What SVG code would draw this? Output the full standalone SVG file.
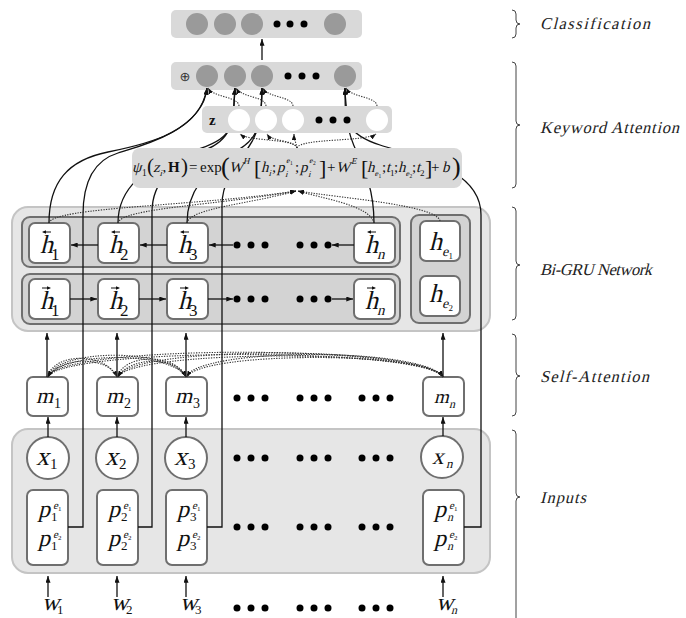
<svg xmlns="http://www.w3.org/2000/svg" xmlns:xlink="http://www.w3.org/1999/xlink" width="686" height="618" viewBox="0 0 686 618">
<style>
.outer{fill:#e6e6e6;stroke:#c4c4c4;stroke-width:2}
.row{fill:#d3d3d3;stroke:#6f6f6f;stroke-width:2}
.cell{fill:#fff;stroke:#6f6f6f;stroke-width:2}
.bar{fill:#d9d9d9}
.gc{fill:#9a9a9a}
.wc{fill:#fff}
.dot{fill:#000}
.v{font-family:'Liberation Serif','Times New Roman',serif;fill:#111}
.r{font-family:'Liberation Serif','Times New Roman',serif;fill:#111}
.lab{font-family:'Liberation Serif','Times New Roman',serif;font-size:16.5px;fill:#222}
.sl{fill:none;stroke:#111;stroke-width:1.3}
.dl{fill:none;stroke:#333;stroke-width:1.1;stroke-dasharray:1.3 1.3}
.br{fill:none;stroke:#444;stroke-width:1}
</style>
<defs>
<marker id="ah" viewBox="0 0 8 6" refX="8" refY="3" markerWidth="7" markerHeight="5" orient="auto" markerUnits="userSpaceOnUse"><path d="M0,0 L8,3 L0,6 z" fill="#111"/></marker>
<marker id="ad" viewBox="0 0 8 6" refX="8" refY="3" markerWidth="6" markerHeight="4.5" orient="auto" markerUnits="userSpaceOnUse"><path d="M0,0 L8,3 L0,6 z" fill="#111"/></marker>
<g id="al"><path d="M1.5,0 H9" stroke="#111" stroke-width="1"/><path d="M0,0 l4,-1.7 v3.4z" fill="#111"/></g>
<g id="ar"><path d="M0,0 H7.5" stroke="#111" stroke-width="1"/><path d="M9,0 l-4,-1.7 v3.4z" fill="#111"/></g>
</defs>

<!-- Bi-GRU containers -->
<g id="bigru">
<rect class="outer" x="12" y="207" width="478" height="124" rx="16"/>
<rect class="row" x="22" y="217" width="378" height="50" rx="8"/>
<rect class="row" x="22" y="274" width="378" height="50" rx="8"/>
<rect class="row" x="411" y="215" width="59" height="108" rx="8"/>
<g class="dot"><circle cx="237" cy="245" r="3.5"/><circle cx="251" cy="245" r="3.5"/><circle cx="265" cy="245" r="3.5"/><circle cx="300" cy="245" r="3.5"/><circle cx="314" cy="245" r="3.5"/><circle cx="328" cy="245" r="3.5"/>
<circle cx="237" cy="299" r="3.5"/><circle cx="251" cy="299" r="3.5"/><circle cx="265" cy="299" r="3.5"/><circle cx="300" cy="299" r="3.5"/><circle cx="314" cy="299" r="3.5"/><circle cx="328" cy="299" r="3.5"/></g>
</g>
<g id="hb1"><rect class="cell" x="29" y="223" width="41" height="40" rx="6"/><use xlink:href="#al" x="42" y="232"/><text class="v" transform="translate(40,253) skewX(-14)" font-size="26">h</text><text class="r" x="51" y="260" font-size="17">1</text></g>
<g id="hb2"><rect class="cell" x="98" y="223" width="41" height="40" rx="6"/><use xlink:href="#al" x="111" y="232"/><text class="v" transform="translate(109,253) skewX(-14)" font-size="26">h</text><text class="r" x="120" y="260" font-size="17">2</text></g>
<g id="hb3"><rect class="cell" x="167" y="223" width="41" height="40" rx="6"/><use xlink:href="#al" x="180" y="232"/><text class="v" transform="translate(178,253) skewX(-14)" font-size="26">h</text><text class="r" x="189" y="260" font-size="17">3</text></g>
<g id="hbn"><rect class="cell" x="354" y="223" width="41" height="40" rx="6"/><use xlink:href="#al" x="367" y="232"/><text class="v" transform="translate(365,253) skewX(-14)" font-size="26">h</text><text class="v" transform="translate(377,259) skewX(-14)" font-size="15">n</text></g>
<g id="hf1"><rect class="cell" x="29" y="279" width="41" height="40" rx="6"/><use xlink:href="#ar" x="42" y="288"/><text class="v" transform="translate(40,309) skewX(-14)" font-size="26">h</text><text class="r" x="51" y="316" font-size="17">1</text></g>
<g id="hf2"><rect class="cell" x="98" y="279" width="41" height="40" rx="6"/><use xlink:href="#ar" x="111" y="288"/><text class="v" transform="translate(109,309) skewX(-14)" font-size="26">h</text><text class="r" x="120" y="316" font-size="17">2</text></g>
<g id="hf3"><rect class="cell" x="167" y="279" width="41" height="40" rx="6"/><use xlink:href="#ar" x="180" y="288"/><text class="v" transform="translate(178,309) skewX(-14)" font-size="26">h</text><text class="r" x="189" y="316" font-size="17">3</text></g>
<g id="hfn"><rect class="cell" x="354" y="279" width="41" height="40" rx="6"/><use xlink:href="#ar" x="367" y="288"/><text class="v" transform="translate(365,309) skewX(-14)" font-size="26">h</text><text class="v" transform="translate(377,315) skewX(-14)" font-size="15">n</text></g>
<g id="he1"><rect class="cell" x="420" y="221" width="40" height="40" rx="6"/><text class="v" transform="translate(429,250) skewX(-14)" font-size="26">h</text><text class="v" transform="translate(442,256) skewX(-14)" font-size="14">e</text><text class="r" x="448.5" y="259" font-size="9">1</text></g>
<g id="he2"><rect class="cell" x="420" y="276" width="40" height="40" rx="6"/><text class="v" transform="translate(429,302) skewX(-14)" font-size="26">h</text><text class="v" transform="translate(442,308) skewX(-14)" font-size="14">e</text><text class="r" x="448.5" y="311" font-size="9">2</text></g>

<!-- Inputs container -->
<g id="inputs">
<rect class="outer" x="12" y="429" width="478" height="144" rx="16"/>
<g class="dot"><circle cx="237" cy="458" r="3.5"/><circle cx="251" cy="458" r="3.5"/><circle cx="265" cy="458" r="3.5"/><circle cx="300" cy="458" r="3.5"/><circle cx="314" cy="458" r="3.5"/><circle cx="328" cy="458" r="3.5"/><circle cx="362" cy="458" r="3.5"/><circle cx="376" cy="458" r="3.5"/><circle cx="390" cy="458" r="3.5"/>
<circle cx="237" cy="527" r="3.5"/><circle cx="251" cy="527" r="3.5"/><circle cx="265" cy="527" r="3.5"/><circle cx="300" cy="527" r="3.5"/><circle cx="314" cy="527" r="3.5"/><circle cx="328" cy="527" r="3.5"/><circle cx="362" cy="527" r="3.5"/><circle cx="376" cy="527" r="3.5"/><circle cx="390" cy="527" r="3.5"/></g>
</g>
<g id="x1"><circle class="cell" cx="48" cy="458" r="21"/><text class="v" transform="translate(36,465) skewX(-14)" font-size="26">x</text><text class="r" x="50" y="469" font-size="15">1</text></g>
<g id="x2"><circle class="cell" cx="117" cy="458" r="21"/><text class="v" transform="translate(105,465) skewX(-14)" font-size="26">x</text><text class="r" x="119" y="469" font-size="15">2</text></g>
<g id="x3"><circle class="cell" cx="186" cy="458" r="21"/><text class="v" transform="translate(174,465) skewX(-14)" font-size="26">x</text><text class="r" x="188" y="469" font-size="15">3</text></g>
<g id="xn"><circle class="cell" cx="442" cy="457" r="21"/><text class="v" transform="translate(432,464) skewX(-14)" font-size="23">x</text><text class="v" transform="translate(446,468) skewX(-14)" font-size="13">n</text></g>

<g id="p1"><rect class="cell" x="27" y="490" width="41" height="75" rx="6"/>
<text class="v" transform="translate(38,517) skewX(-14)" font-size="24">p</text><text class="v" transform="translate(53,509) skewX(-14)" font-size="11">e</text><text class="r" x="58" y="511" font-size="7">1</text><text class="r" x="51" y="521" font-size="13">1</text>
<text class="v" transform="translate(38,546) skewX(-14)" font-size="24">p</text><text class="v" transform="translate(53,538) skewX(-14)" font-size="11">e</text><text class="r" x="58" y="540" font-size="7">2</text><text class="r" x="51" y="550" font-size="13">1</text></g>
<g id="p2"><rect class="cell" x="97" y="490" width="41" height="75" rx="6"/>
<text class="v" transform="translate(108,517) skewX(-14)" font-size="24">p</text><text class="v" transform="translate(123,509) skewX(-14)" font-size="11">e</text><text class="r" x="128" y="511" font-size="7">1</text><text class="r" x="121" y="521" font-size="13">2</text>
<text class="v" transform="translate(108,546) skewX(-14)" font-size="24">p</text><text class="v" transform="translate(123,538) skewX(-14)" font-size="11">e</text><text class="r" x="128" y="540" font-size="7">2</text><text class="r" x="121" y="550" font-size="13">2</text></g>
<g id="p3"><rect class="cell" x="166" y="490" width="41" height="75" rx="6"/>
<text class="v" transform="translate(177,517) skewX(-14)" font-size="24">p</text><text class="v" transform="translate(192,509) skewX(-14)" font-size="11">e</text><text class="r" x="197" y="511" font-size="7">1</text><text class="r" x="190" y="521" font-size="13">3</text>
<text class="v" transform="translate(177,546) skewX(-14)" font-size="24">p</text><text class="v" transform="translate(192,538) skewX(-14)" font-size="11">e</text><text class="r" x="197" y="540" font-size="7">2</text><text class="r" x="190" y="550" font-size="13">3</text></g>
<g id="pn"><rect class="cell" x="423" y="490" width="41" height="75" rx="6"/>
<text class="v" transform="translate(434,517) skewX(-14)" font-size="24">p</text><text class="v" transform="translate(449,509) skewX(-14)" font-size="11">e</text><text class="r" x="454" y="511" font-size="7">1</text><text class="v" transform="translate(447,521) skewX(-14)" font-size="12">n</text>
<text class="v" transform="translate(434,546) skewX(-14)" font-size="24">p</text><text class="v" transform="translate(449,538) skewX(-14)" font-size="11">e</text><text class="r" x="454" y="540" font-size="7">2</text><text class="v" transform="translate(447,550) skewX(-14)" font-size="12">n</text></g>

<!-- Self-attention nodes -->
<g id="m1"><rect class="cell" x="27" y="377" width="41" height="39" rx="6"/><text class="v" transform="translate(36,403) skewX(-14)" font-size="22">m</text><text class="r" x="54" y="408" font-size="14">1</text></g>
<g id="m2"><rect class="cell" x="97" y="377" width="41" height="39" rx="6"/><text class="v" transform="translate(106,403) skewX(-14)" font-size="22">m</text><text class="r" x="124" y="408" font-size="14">2</text></g>
<g id="m3"><rect class="cell" x="166" y="377" width="41" height="39" rx="6"/><text class="v" transform="translate(175,403) skewX(-14)" font-size="22">m</text><text class="r" x="193" y="408" font-size="14">3</text></g>
<g id="mn"><rect class="cell" x="423" y="377" width="41" height="39" rx="6"/><text class="v" transform="translate(434,403) skewX(-14)" font-size="19">m</text><text class="v" transform="translate(449,408) skewX(-14)" font-size="12">n</text></g>
<g id="mdots" class="dot"><circle cx="237" cy="398" r="3.5"/><circle cx="251" cy="398" r="3.5"/><circle cx="265" cy="398" r="3.5"/><circle cx="300" cy="398" r="3.5"/><circle cx="314" cy="398" r="3.5"/><circle cx="328" cy="398" r="3.5"/><circle cx="362" cy="398" r="3.5"/><circle cx="376" cy="398" r="3.5"/><circle cx="390" cy="398" r="3.5"/></g>

<!-- word labels -->
<g id="w1"><text class="v" transform="translate(42,610) skewX(-14)" font-size="24">w</text><text class="r" x="57" y="614" font-size="13">1</text></g>
<g id="w2"><text class="v" transform="translate(111,610) skewX(-14)" font-size="24">w</text><text class="r" x="126" y="614" font-size="13">2</text></g>
<g id="w3"><text class="v" transform="translate(180,610) skewX(-14)" font-size="24">w</text><text class="r" x="195" y="614" font-size="13">3</text></g>
<g id="wn"><text class="v" transform="translate(436,610) skewX(-14)" font-size="24">w</text><text class="v" transform="translate(451,614) skewX(-14)" font-size="12">n</text></g>
<g id="wdots" class="dot"><circle cx="237" cy="608" r="3.5"/><circle cx="251" cy="608" r="3.5"/><circle cx="265" cy="608" r="3.5"/><circle cx="300" cy="608" r="3.5"/><circle cx="314" cy="608" r="3.5"/><circle cx="328" cy="608" r="3.5"/><circle cx="362" cy="608" r="3.5"/><circle cx="376" cy="608" r="3.5"/><circle cx="390" cy="608" r="3.5"/></g>

<!-- Classification layer -->
<g id="classification"><rect class="bar" x="171" y="10" width="191" height="28" rx="5"/>
<circle class="gc" cx="197" cy="24" r="11"/><circle class="gc" cx="225" cy="24" r="11"/><circle class="gc" cx="252" cy="24" r="11"/>
<circle class="dot" cx="277" cy="24" r="3.5"/><circle class="dot" cx="290" cy="24" r="3.5"/><circle class="dot" cx="304" cy="24" r="3.5"/>
<circle class="gc" cx="335" cy="24" r="11"/></g>

<!-- Concatenation layer -->
<g id="concat"><rect class="bar" x="171" y="62" width="191" height="28" rx="5"/>
<text x="185" y="80.5" font-family="DejaVu Sans, sans-serif" font-size="13" text-anchor="middle" fill="#333">⊕</text>
<circle class="gc" cx="207" cy="76" r="11"/><circle class="gc" cx="235" cy="76" r="11"/><circle class="gc" cx="262" cy="76" r="11"/>
<circle class="dot" cx="288" cy="76" r="3.5"/><circle class="dot" cx="302" cy="76" r="3.5"/><circle class="dot" cx="316" cy="76" r="3.5"/>
<circle class="gc" cx="345" cy="76" r="11"/></g>

<!-- Connectors -->
<g id="connectors">
<path class="sl" marker-end="url(#ah)" d="M262,60 V39"/>
<path class="sl" marker-end="url(#ah)" d="M48,597 V576"/>
<path class="sl" marker-end="url(#ah)" d="M117,597 V576"/>
<path class="sl" marker-end="url(#ah)" d="M186,597 V576"/>
<path class="sl" marker-end="url(#ah)" d="M443,597 V576"/>
<path class="sl" marker-end="url(#ah)" d="M48,437 V417"/>
<path class="sl" marker-end="url(#ah)" d="M117,437 V417"/>
<path class="sl" marker-end="url(#ah)" d="M186,437 V417"/>
<path class="sl" marker-end="url(#ah)" d="M443,436 V417"/>
<path class="sl" marker-end="url(#ah)" d="M47,377 V333"/>
<path class="sl" marker-end="url(#ah)" d="M117,377 V333"/>
<path class="sl" marker-end="url(#ah)" d="M186,377 V333"/>
<path class="sl" marker-end="url(#ah)" d="M443,377 V333"/>
<path class="sl" marker-end="url(#ah)" d="M98,245 H71"/>
<path class="sl" marker-end="url(#ah)" d="M167,245 H140"/>
<path class="sl" marker-end="url(#ah)" d="M233,245 H209"/>
<path class="sl" marker-end="url(#ah)" d="M354,245 H332"/>
<path class="sl" marker-end="url(#ah)" d="M70,299 H97"/>
<path class="sl" marker-end="url(#ah)" d="M139,299 H166"/>
<path class="sl" marker-end="url(#ah)" d="M208,299 H233"/>
<path class="sl" marker-end="url(#ah)" d="M332,299 H353"/>
<path class="sl" marker-end="url(#ah)" d="M68,527 H83 V215 C83,180 95,160 118,153 S203,130 207,88"/>
<path class="sl" marker-end="url(#ah)" d="M138,527 H152 V212 C152,180 175,162 205,150 S233,118 235,88"/>
<path class="sl" marker-end="url(#ah)" d="M207,527 H222 V205 C222,180 238,162 248,148 S262,118 262,88"/>
<path class="sl" marker-end="url(#ah)" d="M464,527 H481 V215 C481,170 420,158 380,145 S346,115 345,88"/>
<path class="sl" marker-end="url(#ah)" d="M49,223 C49,182 68,160 108,152 S200,132 207,88"/>
<path class="sl" marker-end="url(#ah)" d="M118,223 C118,185 150,163 195,150 S232,120 235,88"/>
<path class="sl" marker-end="url(#ah)" d="M187,223 C187,185 215,163 238,150 S261,120 262,88"/>
<path class="sl" marker-end="url(#ah)" d="M374,223 C374,170 350,150 348,125 S345,100 345,88"/>
<path class="dl" marker-end="url(#ad)" d="M49,223 C52,207 200,206 296,191"/>
<path class="dl" marker-end="url(#ad)" d="M118,223 C121,208 220,205 296,191"/>
<path class="dl" marker-end="url(#ad)" d="M187,223 C190,208 250,204 296,191"/>
<path class="dl" marker-end="url(#ad)" d="M374,223 C370,205 320,198 298,191"/>
<path class="dl" marker-end="url(#ad)" d="M440,221 C437,205 340,198 298,191"/>
<path class="dl" marker-end="url(#ad)" d="M297,148 C294,138 250,142 240,134"/>
<path class="dl" marker-end="url(#ad)" d="M297,148 C295,140 272,142 267,134"/>
<path class="dl" marker-end="url(#ad)" d="M297,148 C296,142 294,140 294,134"/>
<path class="dl" marker-end="url(#ad)" d="M297,148 C300,138 365,142 376,134"/>
<path class="dl" marker-end="url(#ad)" d="M239,106 C238,96 214,98 208,88"/>
<path class="dl" marker-end="url(#ad)" d="M266,106 C265,96 242,98 236,88"/>
<path class="dl" marker-end="url(#ad)" d="M293,106 C292,96 268,98 263,88"/>
<path class="dl" marker-end="url(#ad)" d="M377,106 C376,96 352,98 346,88"/>
<path class="dl" marker-end="url(#ad)" d="M47,377 C55,352 105,352 117,377"/>
<path class="dl" marker-end="url(#ad)" d="M117,377 C108,356 60,356 48,377"/>
<path class="dl" marker-end="url(#ad)" d="M47,377 C58,348 170,348 186,377"/>
<path class="dl" marker-end="url(#ad)" d="M186,377 C172,351 62,351 48,377"/>
<path class="dl" marker-end="url(#ad)" d="M47,377 C60,344 420,344 443,377"/>
<path class="dl" marker-end="url(#ad)" d="M443,377 C425,347 62,347 48,377"/>
<path class="dl" marker-end="url(#ad)" d="M117,377 C125,353 175,353 186,377"/>
<path class="dl" marker-end="url(#ad)" d="M186,377 C178,356 130,356 118,377"/>
<path class="dl" marker-end="url(#ad)" d="M117,377 C130,345 420,345 443,377"/>
<path class="dl" marker-end="url(#ad)" d="M443,377 C428,349 132,349 118,377"/>
<path class="dl" marker-end="url(#ad)" d="M186,377 C198,347 425,347 443,377"/>
<path class="dl" marker-end="url(#ad)" d="M443,377 C430,351 200,351 187,377"/>
</g>

<!-- Keyword vector z -->
<g id="zlayer"><rect class="bar" x="202" y="106" width="190" height="27" rx="5"/>
<text class="r" x="209" y="125" font-weight="bold" font-size="15">z</text>
<circle class="wc" cx="239" cy="120" r="11"/><circle class="wc" cx="266" cy="120" r="11"/><circle class="wc" cx="293" cy="120" r="11"/>
<circle class="dot" cx="319" cy="120" r="3.5"/><circle class="dot" cx="333" cy="120" r="3.5"/><circle class="dot" cx="347" cy="120" r="3.5"/>
<circle class="wc" cx="377" cy="120" r="11"/></g>

<!-- Attention score formula -->
<g id="formula"><rect class="bar" x="132" y="148" width="330" height="40" rx="8"/>
<text class="v" transform="translate(132,172) skewX(-14)" font-size="15">ψ</text><text class="r" x="142" y="176" font-size="9.5">1</text>
<text class="r" x="147" y="173" font-size="21">(</text>
<text class="v" transform="translate(153,172) skewX(-14)" font-size="15">z</text><text class="v" transform="translate(159.5,176) skewX(-14)" font-size="9">i</text>
<text class="r" x="162.5" y="172" font-size="15">,</text>
<text class="r" x="168" y="172" font-size="15" font-weight="bold">H</text>
<text class="r" x="181" y="173" font-size="21">)</text>
<text class="r" x="189" y="172" font-size="15">=</text>
<text class="r" x="200" y="172" font-size="15">exp</text>
<text class="r" x="221" y="175" font-size="26">(</text>
<text class="v" transform="translate(229,172) skewX(-14)" font-size="15">W</text><text class="v" transform="translate(243,164) skewX(-14)" font-size="9">H</text>
<text class="r" x="254" y="175" font-size="22">[</text>
<text class="v" transform="translate(261,172) skewX(-14)" font-size="15">h</text><text class="v" transform="translate(268.5,176) skewX(-14)" font-size="9">i</text>
<text class="r" x="272" y="172" font-size="15">;</text>
<text class="v" transform="translate(277,172) skewX(-14)" font-size="15">p</text><text class="v" transform="translate(285,177) skewX(-14)" font-size="9">i</text><text class="v" transform="translate(286,163) skewX(-14)" font-size="8">e</text><text class="r" x="290" y="165" font-size="5.5">1</text>
<text class="r" x="295" y="172" font-size="15">;</text>
<text class="v" transform="translate(300,172) skewX(-14)" font-size="15">p</text><text class="v" transform="translate(308,177) skewX(-14)" font-size="9">i</text><text class="v" transform="translate(309,163) skewX(-14)" font-size="8">e</text><text class="r" x="313" y="165" font-size="5.5">2</text>
<text class="r" x="319" y="175" font-size="22">]</text>
<text class="r" x="327" y="172" font-size="15">+</text>
<text class="v" transform="translate(336,172) skewX(-14)" font-size="15">W</text><text class="v" transform="translate(351,164) skewX(-14)" font-size="9">E</text>
<text class="r" x="361" y="175" font-size="22">[</text>
<text class="v" transform="translate(367,172) skewX(-14)" font-size="15">h</text><text class="v" transform="translate(374.5,176) skewX(-14)" font-size="8">e</text><text class="r" x="378.5" y="178" font-size="5.5">1</text>
<text class="r" x="382" y="172" font-size="15">;</text>
<text class="v" transform="translate(386,172) skewX(-14)" font-size="15">t</text><text class="r" x="390" y="176" font-size="9">1</text>
<text class="r" x="394" y="172" font-size="15">;</text>
<text class="v" transform="translate(398,172) skewX(-14)" font-size="15">h</text><text class="v" transform="translate(405.5,176) skewX(-14)" font-size="8">e</text><text class="r" x="409.5" y="178" font-size="5.5">2</text>
<text class="r" x="412" y="172" font-size="15">;</text>
<text class="v" transform="translate(416,172) skewX(-14)" font-size="15">t</text><text class="r" x="420" y="176" font-size="9">2</text>
<text class="r" x="425" y="175" font-size="22">]</text>
<text class="r" x="431" y="172" font-size="15">+</text>
<text class="v" transform="translate(442,172) skewX(-14)" font-size="15">b</text>
<text class="r" x="452" y="175" font-size="26">)</text>
</g>

<!-- Layer labels -->
<g id="layer-labels">
<path class="br" d="M512,10 Q516,10 516,14 V20 Q516,24 520,24 Q516,24 516,28 V34 Q516,38 512,38"/>
<text class="lab" transform="translate(540,29) skewX(-14)" textLength="110" lengthAdjust="spacing">Classification</text>
<path class="br" d="M512,62 Q516,62 516,66 V121 Q516,125 520,125 Q516,125 516,129 V184 Q516,188 512,188"/>
<text class="lab" transform="translate(540,133) skewX(-14)" textLength="139" lengthAdjust="spacing">Keyword Attention</text>
<path class="br" d="M512,207 Q516,207 516,211 V261 Q516,265 520,265 Q516,265 516,269 V316 Q516,320 512,320"/>
<text class="lab" transform="translate(540,275) skewX(-14)" textLength="112" lengthAdjust="spacing">Bi-GRU Network</text>
<path class="br" d="M512,334 Q516,334 516,338 V372 Q516,376 520,376 Q516,376 516,380 V412 Q516,416 512,416"/>
<text class="lab" transform="translate(540,382) skewX(-14)" textLength="109" lengthAdjust="spacing">Self-Attention</text>
<path class="br" d="M512,430 Q516,430 516,434 V493 Q516,497 520,497 Q516,497 516,501 V618"/>
<text class="lab" transform="translate(540,503) skewX(-14)" textLength="46" lengthAdjust="spacing">Inputs</text>
</g>
</svg>
